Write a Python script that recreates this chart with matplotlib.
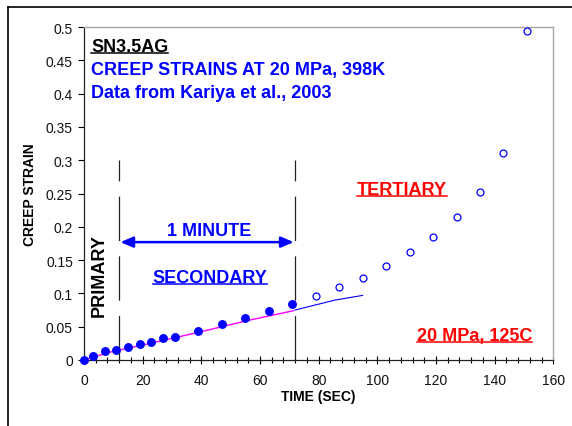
import matplotlib
matplotlib.use("Agg")
import matplotlib.pyplot as plt
from matplotlib.lines import Line2D

plt.rcParams['font.family'] = ['Liberation Sans', 'DejaVu Sans']
plt.rcParams['lines.scale_dashes'] = False

# ---- data ----
t_secondary = [0, 3, 7, 11, 15, 19, 23, 27, 31, 39, 47, 55, 63, 71]
e_secondary = [0.0, 0.0056, 0.013, 0.0155, 0.020, 0.024, 0.0275, 0.033, 0.035,
               0.044, 0.0536, 0.0626, 0.073, 0.0836]
t_tertiary = [79, 87, 95, 103, 111, 119, 127, 135, 143, 151]
e_tertiary = [0.0956, 0.1096, 0.1236, 0.141, 0.1617, 0.1847, 0.215, 0.2527,
              0.311, 0.4935]
t_fit1 = [0, 3, 9, 19, 39, 55.5, 71.4]
e_fit1 = [0.0, 0.004, 0.012, 0.0215, 0.0415, 0.059, 0.074]
t_fit2 = [71.9, 85.6, 95]
e_fit2 = [0.075, 0.090, 0.097]
boundaries = [12, 72]
x_ticks = [0, 20, 40, 60, 80, 100, 120, 140, 160]
y_ticks = [0, 0.05, 0.1, 0.15, 0.2, 0.25, 0.3, 0.35, 0.4, 0.45, 0.5]
y_ticklabels = ['0', '0.05', '0.1', '0.15', '0.2', '0.25', '0.3', '0.35', '0.4', '0.45', '0.5']

W, H = 572, 427
fig = plt.figure(figsize=(W / 100, H / 100), dpi=100)
ax = fig.add_axes([84 / W, (H - 361) / H, (553.3 - 84) / W, 333 / H])

blue = '#0000FF'
ax.plot(t_fit1, e_fit1, color='#FF00FF', lw=1.0, zorder=3)
ax.plot(t_fit2, e_fit2, color=blue, lw=0.8, zorder=3)
ax.plot(t_secondary, e_secondary, 'o', color=blue, ms=5.4, mec=blue, zorder=4, clip_on=False)
ax.plot(t_tertiary, e_tertiary, 'o', mfc='white', mec=blue, mew=0.9, ms=5.0, zorder=4,
        clip_on=False)

for b in boundaries:
    ax.plot([b, b], [0, 0.30], color='#222222', lw=0.9, dashes=(32, 11), zorder=2)

ax.annotate('', xy=(boundaries[0] + 0.4, 0.177), xytext=(boundaries[1] - 0.5, 0.177),
            arrowprops=dict(arrowstyle='<|-|>,head_length=0.75,head_width=0.32',
                            color=blue, lw=1.8, shrinkA=0, shrinkB=0), zorder=5)

ax.set_xlim(0, 160)
ax.set_ylim(0, 0.5)
ax.set_xticks(x_ticks)
ax.set_xticklabels([str(v) for v in x_ticks])
ax.set_xticks(range(0, 161, 4), minor=True)
ax.set_yticks(y_ticks)
ax.set_yticklabels(y_ticklabels)

ax.tick_params(axis='x', which='major', direction='inout', length=6, width=0.8,
               labelsize=10, pad=6.5, labelcolor='#111111')
ax.tick_params(axis='x', which='minor', direction='inout', length=4.5, width=0.8)
ax.tick_params(axis='y', which='major', direction='out', length=4, width=0.8,
               labelsize=10, pad=4, labelcolor='#111111')

for s in ['top', 'right']:
    ax.spines[s].set_color('#A8A8A8')
    ax.spines[s].set_linewidth(1.0)
for s in ['left', 'bottom']:
    ax.spines[s].set_color('#222222')
    ax.spines[s].set_linewidth(0.9)

ax.set_xlabel('TIME (SEC)', fontsize=10, fontweight='bold', va='center')
ax.xaxis.set_label_coords(0.5, (361 - 396.7) / 333)
ax.set_ylabel('CREEP STRAIN', fontsize=10, fontweight='bold', va='center')
ax.yaxis.set_label_coords((30.5 - 84) / 469.3, 0.5)

fs = 13
texts = []
texts.append((ax.text(2.4, 0.4645, 'SN3.5AG', color='black', fontsize=fs,
                      fontweight='bold', ha='left', va='baseline'), 'black'))
ax.text(2.4, 0.4294, 'CREEP STRAINS AT 20 MPa, 398K', color=blue, fontsize=fs,
        fontweight='bold', ha='left', va='baseline')
ax.text(2.4, 0.3944, 'Data from Kariya et al., 2003', color=blue, fontsize=fs,
        fontweight='bold', ha='left', va='baseline')
ax.text(42.6, 0.1877, '1 MINUTE', color=blue, fontsize=fs, fontweight='bold',
        ha='center', va='baseline')
texts.append((ax.text(43.0, 0.1176, 'SECONDARY', color=blue, fontsize=fs,
                      fontweight='bold', ha='center', va='baseline'), blue))
ax.text(5.35, 0.128, 'PRIMARY', color='black', fontsize=fs, fontweight='bold',
        rotation=90, ha='center', va='center')
texts.append((ax.text(108.4, 0.249, 'TERTIARY', color='red', fontsize=fs,
                      fontweight='bold', ha='center', va='baseline'), 'red'))
texts.append((ax.text(133.1, 0.0305, '20 MPa, 125C', color='red', fontsize=fs,
                      fontweight='bold', ha='center', va='baseline'), 'red'))

# underlines
fig.canvas.draw()
r = fig.canvas.get_renderer()
for t, c in texts:
    bb = t.get_window_extent(r)
    xb, yb = ax.transData.transform(t.get_position())
    yl = yb - 2.2
    fig.add_artist(Line2D([bb.x0 / W, bb.x1 / W], [yl / H, yl / H],
                          transform=fig.transFigure, color=c, lw=1.1))

# outer chart border (left and top)
fig.add_artist(Line2D([8 / W, 8 / W], [0, (H - 8) / H], transform=fig.transFigure,
                      color='black', lw=1.2))
fig.add_artist(Line2D([8 / W, 1], [(H - 8) / H, (H - 8) / H], transform=fig.transFigure,
                      color='black', lw=1.2))

fig.savefig('out.png', dpi=100)
